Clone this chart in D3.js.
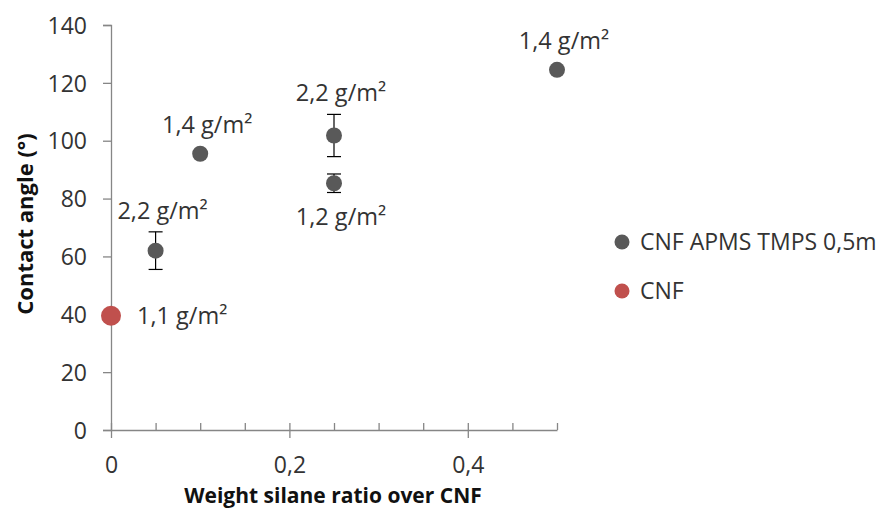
<!DOCTYPE html>
<html><head><meta charset="utf-8">
<script src="https://cdn.jsdelivr.net/npm/d3@7"></script>
<style>
html,body{margin:0;padding:0;background:#fff;}
svg{display:block;font-family:"Open Sans",sans-serif;}
</style></head>
<body>
<svg id="chart" width="884" height="508"></svg>
<script>
// ---- data ----
const silaneRatio = [0.05, 0.1, 0.25, 0.25, 0.5];
const contactAngle = [62, 95.5, 101.8, 85.3, 124.5];
const angleError = [6.5, 0, 7.3, 3.2, 0];
const pointLabels = ["2,2 g/m²", "1,4 g/m²", "2,2 g/m²", "1,2 g/m²", "1,4 g/m²"];
const cnfRatio = [0];
const cnfAngle = [39.5];
const cnfLabels = ["1,1 g/m²"];
const seriesNames = ["CNF APMS TMPS 0,5m", "CNF"];
const yTicks = [0, 20, 40, 60, 80, 100, 120, 140];
const xMajorTicks = [0, 0.2, 0.4];
const xMinorTicks = [0.05, 0.1, 0.15, 0.25, 0.3, 0.35, 0.45, 0.5];
const xTitle = "Weight silane ratio over CNF";
const yTitle = "Contact angle (°)";

// ---- chart ----
const svg = d3.select("#chart");
const grey = "#595959", red = "#C0504D", axisCol = "#868686", textCol = "#333";
const x = d3.scaleLinear().domain([0, 0.5]).range([111, 557]);
const y = d3.scaleLinear().domain([0, 140]).range([430, 25]);
const fmt = d => d === 0 ? "0" : d3.format(".1f")(d).replace(".", ",");

// y axis
const yAxis = svg.append("g").attr("transform", `translate(${x(0)},0)`)
  .call(d3.axisLeft(y).tickValues(yTicks).tickSize(8).tickPadding(16));
yAxis.select(".domain").attr("stroke", axisCol).attr("stroke-width", 1.3);
yAxis.selectAll(".tick line").attr("stroke", axisCol).attr("stroke-width", 1.3);
yAxis.selectAll(".tick text").attr("fill", textCol).style("font-size", "23px")
  .style("font-family", "Open Sans").attr("dy", "0.36em");

// x axis minor ticks (inside)
const xMinor = svg.append("g").attr("transform", `translate(0,${y(0)})`)
  .call(d3.axisBottom(x).tickValues(xMinorTicks).tickSize(-7).tickFormat(""));
xMinor.select(".domain").remove();
xMinor.selectAll(".tick line").attr("stroke", axisCol).attr("stroke-width", 1.3);
// x axis major ticks (cross)
const xAxis = svg.append("g").attr("transform", `translate(0,${y(0)})`)
  .call(d3.axisBottom(x).tickValues(xMajorTicks).tickSize(8).tickSizeOuter(0).tickPadding(19).tickFormat(fmt));
xAxis.select(".domain").attr("stroke", axisCol).attr("stroke-width", 1.3);
xAxis.selectAll(".tick line").attr("y1", -7).attr("stroke", axisCol).attr("stroke-width", 1.3);
xAxis.selectAll(".tick text").attr("fill", textCol).style("font-size", "23px").style("font-family", "Open Sans");

// axis titles
svg.append("text").attr("x", 333).attr("y", 503).attr("text-anchor", "middle")
  .attr("fill", "#111").style("font-weight", "bold").style("font-size", "21px").text(xTitle);
svg.append("text").attr("transform", "translate(33,224) rotate(-90)").attr("text-anchor", "middle")
  .attr("fill", "#111").style("font-weight", "bold").style("font-size", "22px").text(yTitle);

// error bars
const pts = silaneRatio.map((v, i) => ({x: v, y: contactAngle[i], e: angleError[i], label: pointLabels[i]}));
const eb = svg.append("g").selectAll("g").data(pts.filter(d => d.e > 0)).join("g")
  .attr("stroke", "#000").attr("stroke-width", 1.2);
eb.append("line").attr("x1", d => x(d.x)).attr("x2", d => x(d.x)).attr("y1", d => y(d.y + d.e)).attr("y2", d => y(d.y - d.e));
eb.append("line").attr("x1", d => x(d.x) - 7).attr("x2", d => x(d.x) + 7).attr("y1", d => y(d.y + d.e)).attr("y2", d => y(d.y + d.e));
eb.append("line").attr("x1", d => x(d.x) - 7).attr("x2", d => x(d.x) + 7).attr("y1", d => y(d.y - d.e)).attr("y2", d => y(d.y - d.e));

// points
svg.append("g").selectAll("circle").data(pts).join("circle")
  .attr("cx", d => x(d.x)).attr("cy", d => y(d.y)).attr("r", 8).attr("fill", grey);
svg.append("g").selectAll("circle").data(cnfRatio).join("circle")
  .attr("cx", d => x(d)).attr("cy", (d, i) => y(cnfAngle[i])).attr("r", 10).attr("fill", red);

// point labels
svg.append("g").selectAll("text").data(pts).join("text")
  .attr("text-anchor", "middle").attr("fill", textCol).style("font-size", "23.5px")
  .attr("x", d => x(d.x) + 7)
  .attr("y", d => {
    const below = pts.some(o => o !== d && o.x === d.x && o.y > d.y);
    if (below) return y(d.y - d.e) + 33;
    return Math.min(y(d.y) - 8, y(d.y + d.e)) - 13;
  })
  .text(d => d.label);
svg.append("g").selectAll("text").data(cnfRatio).join("text")
  .attr("fill", textCol).style("font-size", "23.5px")
  .attr("x", d => x(d) + 26).attr("y", (d, i) => y(cnfAngle[i]) + 8)
  .text((d, i) => cnfLabels[i]);

// legend
const leg = svg.append("g").selectAll("g").data(seriesNames).join("g")
  .attr("transform", (d, i) => `translate(622,${242 + i * 49})`);
leg.append("circle").attr("r", 7.5).attr("fill", (d, i) => i === 0 ? grey : red);
leg.append("text").attr("x", 18).attr("y", 8).attr("fill", textCol).style("font-size", "23px").text(d => d);
</script>
</body></html>
